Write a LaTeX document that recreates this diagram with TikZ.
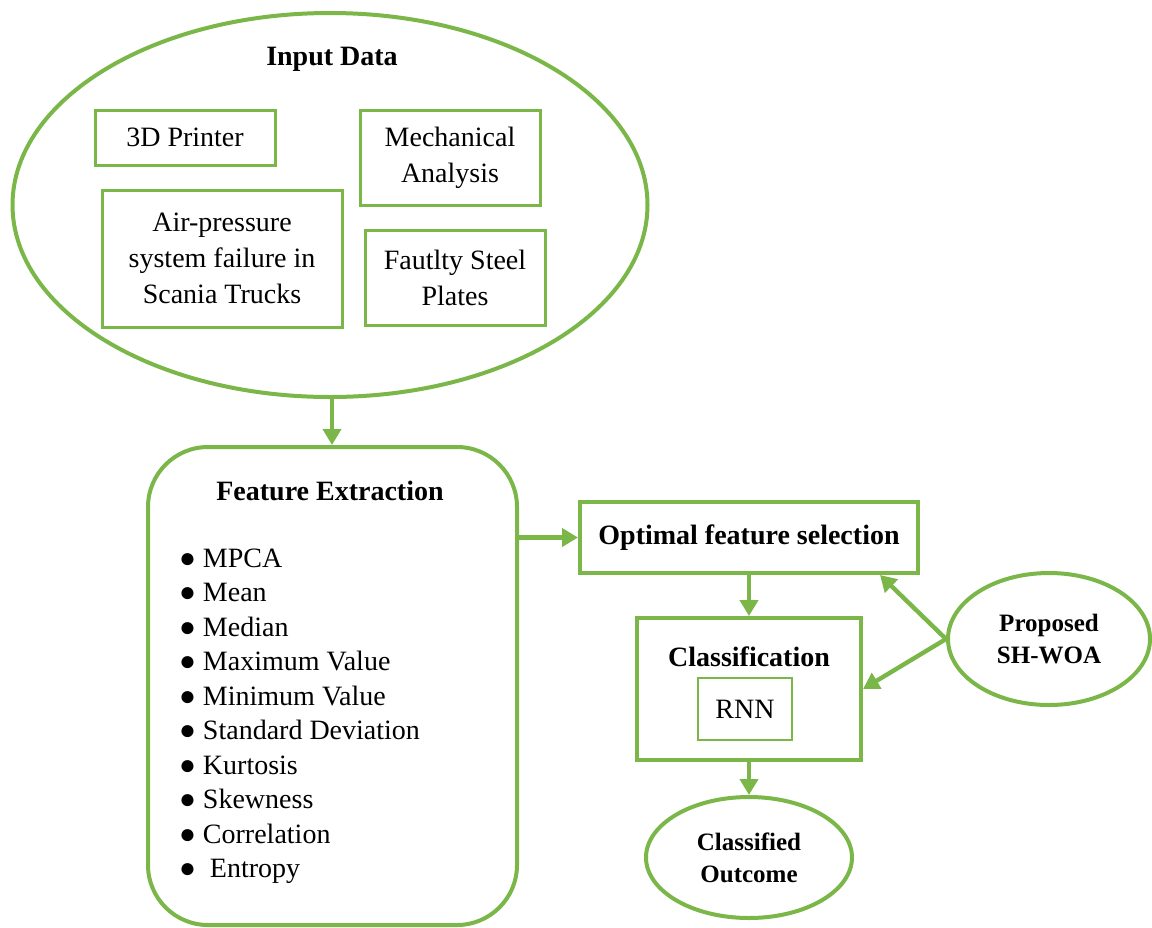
\documentclass[tikz,border=0pt]{standalone}
\usepackage{fontspec}
\setmainfont{Liberation Serif}
\usetikzlibrary{positioning, shapes.geometric, arrows.meta}
\definecolor{leaf}{RGB}{122,182,72}

\begin{document}
\begin{tikzpicture}[x=0.5pt, y=-0.5pt,
    every node/.style = {font=\fontsize{14}{18}\selectfont},
    databox/.style = {shape = rectangle, draw = leaf, fill = white, line width = 1.5pt, align = center, inner sep = 0pt},
    stagebox/.style = {shape = rectangle, draw = leaf, line width = 2pt, align = center, inner sep = 0pt},
    bubble/.style = {shape = ellipse, draw = leaf, line width = 2pt, align = center, inner sep = 0pt},
    flow/.style = {-{Triangle[length = 8pt, width = 9pt]}, draw = leaf, line width = 2.2pt}]
                \useasboundingbox (0, 0) rectangle (1152, 927);

                \node [bubble, minimum width = 317.5pt, minimum height = 192pt] (input) at (330, 205) {};
                \node [font = \fontsize{14}{18}\selectfont\bfseries] (inputtitle) at (332, 59) {Input Data};
                \node [databox, minimum width = 90pt, minimum height = 27.5pt] (printer) at (185, 137.5) {3D Printer};
                \node [databox, minimum width = 90pt, minimum height = 47.5pt] (mech) at (450, 157.5) {Mechanical\\Analysis};
                \node [databox, minimum width = 120pt, minimum height = 68.5pt] (scania) at (222, 258.5) {Air-pressure\\system failure in\\Scania Trucks};
                \node [databox, minimum width = 90pt, minimum height = 47.5pt] (steel) at (455, 277.5) {Fautlty Steel\\Plates};

                \node [stagebox, rounded corners = 30pt, minimum width = 184.5pt, minimum height = 239pt] (feat) at (332.5, 686) {};
                \node [font = \fontsize{14}{18}\selectfont\bfseries] (feattitle) at (330, 491) {Feature Extraction};
                \node [anchor = west, align = left, font = \fontsize{14}{17.25}\selectfont] (featlist) at (172, 716)
                    {● MPCA\\● Mean\\● Median\\● Maximum Value\\● Minimum Value\\● Standard Deviation\\● Kurtosis\\● Skewness\\● Correlation\\● \ Entropy};

                \node [stagebox, minimum width = 169pt, minimum height = 35.5pt, font = \fontsize{14}{18}\selectfont\bfseries] (opt) at (749, 537.5) {Optimal feature selection};
                \node [stagebox, minimum width = 112pt, minimum height = 71pt] (cls) at (749, 689) {};
                \node [font = \fontsize{14}{18}\selectfont\bfseries] (clstitle) at (749, 657) {Classification};
                \node [databox, line width = 0.8pt, minimum width = 47pt, minimum height = 31pt] (rnn) at (745, 709) {RNN};
                \node [bubble, minimum width = 103pt, minimum height = 60.5pt, font = \fontsize{12.5}{16}\selectfont\bfseries] (outcome) at (749, 857.5) {Classified\\Outcome};
                \node [bubble, minimum width = 101pt, minimum height = 66pt, font = \fontsize{12.5}{16}\selectfont\bfseries] (woa) at (1049, 639) {Proposed\\SH-WOA};

                \draw [flow] (input.south -| inputtitle) -- (feat.north -| inputtitle);
                \draw [flow] (feat.east |- opt) -- (opt.west);
                \draw [flow] (opt.south -| cls) -- (cls.north);
                \draw [flow] (cls.south) -- (outcome.north);
                \draw [flow] (woa.west) -- ([xshift = -20pt] opt.south east);
                \draw [flow] (woa.west) -- (cls.east);
\end{tikzpicture}
\end{document}
